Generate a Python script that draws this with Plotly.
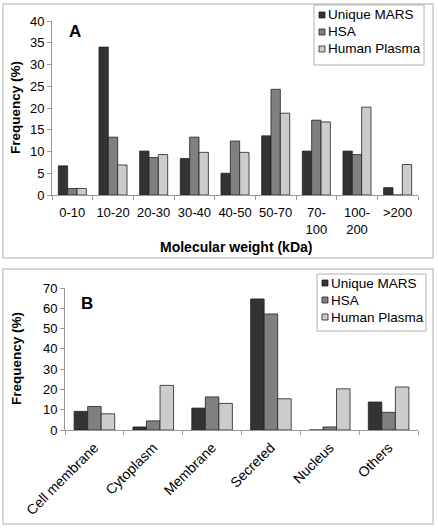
import plotly.graph_objects as go

# Panel A data
mw_categories = ["0-10", "10-20", "20-30", "30-40", "40-50", "50-70", "70-<br>100", "100-<br>200", ">200"]
mw_unique_mars = [6.7, 34.0, 10.1, 8.4, 5.0, 13.6, 10.1, 10.1, 1.7]
mw_hsa = [1.5, 13.3, 8.6, 13.3, 12.4, 24.3, 17.2, 9.3, 0.0]
mw_human_plasma = [1.5, 6.9, 9.3, 9.8, 9.8, 18.8, 16.8, 20.2, 7.0]

# Panel B data
loc_categories = ["Cell membrane", "Cytoplasm", "Membrane", "Secreted", "Nucleus", "Others"]
loc_unique_mars = [9.2, 1.5, 10.8, 64.6, 0.0, 13.8]
loc_hsa = [11.6, 4.5, 16.3, 57.2, 1.5, 8.7]
loc_human_plasma = [8.0, 22.0, 13.1, 15.4, 20.3, 21.2]

series_names = ["Unique MARS", "HSA", "Human Plasma"]
colors = ["#333333", "#808080", "#cccccc"]

W, H = 438, 530
FONT = "Liberation Sans, Arial, sans-serif"


def px_x(x):
    return x / W


def px_y(y):
    return 1 - y / H


fig = go.Figure()

for name, vals, col in zip(series_names, [mw_unique_mars, mw_hsa, mw_human_plasma], colors):
    fig.add_trace(go.Bar(x=mw_categories, y=vals, name=name, showlegend=False,
                         marker=dict(color=col, line=dict(color="#222222", width=0.8)),
                         xaxis="x", yaxis="y"))
for name, vals, col in zip(series_names, [loc_unique_mars, loc_hsa, loc_human_plasma], colors):
    fig.add_trace(go.Bar(x=loc_categories, y=vals, name=name, showlegend=False,
                         marker=dict(color=col, line=dict(color="#222222", width=0.8)),
                         xaxis="x2", yaxis="y2"))

axis_common = dict(showgrid=False, zeroline=False, showline=True, linecolor="#999999", linewidth=1,
                   ticks="outside", tickcolor="#999999", ticklen=4, automargin=False)

shapes = [
    dict(type="rect", xref="paper", yref="paper", x0=px_x(3), x1=px_x(433), y0=px_y(258), y1=px_y(4),
         line=dict(color="#c8c8c8", width=1.5), layer="below"),
    dict(type="rect", xref="paper", yref="paper", x0=px_x(3), x1=px_x(433), y0=px_y(524), y1=px_y(269),
         line=dict(color="#c8c8c8", width=1.5), layer="below"),
]
annotations = [
    dict(text="<b>A</b>", x=px_x(67), y=px_y(32), xref="paper", yref="paper", showarrow=False,
         xanchor="left", yanchor="middle", font=dict(family=FONT, size=17)),
    dict(text="<b>B</b>", x=px_x(79), y=px_y(303), xref="paper", yref="paper", showarrow=False,
         xanchor="left", yanchor="middle", font=dict(family=FONT, size=17)),
    dict(text="<b>Frequency (%)</b>", x=px_x(16), y=px_y(108), xref="paper", yref="paper", showarrow=False,
         textangle=-90, xanchor="center", yanchor="middle", font=dict(family=FONT, size=13.5)),
    dict(text="<b>Frequency (%)</b>", x=px_x(16), y=px_y(359), xref="paper", yref="paper", showarrow=False,
         textangle=-90, xanchor="center", yanchor="middle", font=dict(family=FONT, size=13.5)),
    dict(text="<b>Molecular weight (kDa)</b>", x=px_x(236), y=px_y(247), xref="paper", yref="paper",
         showarrow=False, xanchor="center", yanchor="middle", font=dict(family=FONT, size=14)),
]

# manual legends (boxes, swatches, labels)
for (bx0, by0, bx1, by1, rows) in [(314, 5, 424, 65, [15, 32, 49]), (317, 274, 426, 331, [283, 300, 317])]:
    shapes.append(dict(type="rect", xref="paper", yref="paper", x0=px_x(bx0), x1=px_x(bx1),
                       y0=px_y(by1), y1=px_y(by0), line=dict(color="#b0b0b0", width=1), fillcolor="white"))
    for name, col, ry in zip(series_names, colors, rows):
        shapes.append(dict(type="rect", xref="paper", yref="paper", x0=px_x(bx0 + 5), x1=px_x(bx0 + 11),
                           y0=px_y(ry + 3), y1=px_y(ry - 3), line=dict(color="#222222", width=0.8),
                           fillcolor=col))
        annotations.append(dict(text=name, x=px_x(bx0 + 12), y=px_y(ry), xref="paper", yref="paper",
                                showarrow=False, xanchor="left", yanchor="middle",
                                font=dict(family=FONT, size=13.5, color="#000000")))

fig.update_layout(
    width=W, height=H,
    margin=dict(l=0, r=0, t=0, b=0, autoexpand=False),
    paper_bgcolor="white", plot_bgcolor="white",
    barmode="group", bargap=0.31, bargroupgap=0,
    showlegend=False,
    font=dict(family=FONT, size=13, color="#000000"),
    xaxis=dict(domain=[px_x(52), px_x(418)], anchor="y", type="category", tickson="boundaries",
               tickangle=0, ticklabelstandoff=5, tickfont=dict(family=FONT, size=13, color="#000000"),
               **axis_common),
    yaxis=dict(domain=[px_y(195), px_y(21)], anchor="x", range=[0, 40], dtick=5,
               tickfont=dict(family=FONT, size=13, color="#000000"), **axis_common),
    xaxis2=dict(domain=[px_x(65), px_x(418)], anchor="y2", type="category", tickson="boundaries",
                tickangle=-45, ticklabelstandoff=3, tickfont=dict(family=FONT, size=14, color="#000000"),
                **axis_common),
    yaxis2=dict(domain=[px_y(430), px_y(288)], anchor="x2", range=[0, 70], dtick=10,
                tickfont=dict(family=FONT, size=13, color="#000000"), **axis_common),
    shapes=shapes,
    annotations=annotations,
)

fig.write_html("out.html", config={"displayModeBar": False},
               post_script="document.body.style.margin='0';")
